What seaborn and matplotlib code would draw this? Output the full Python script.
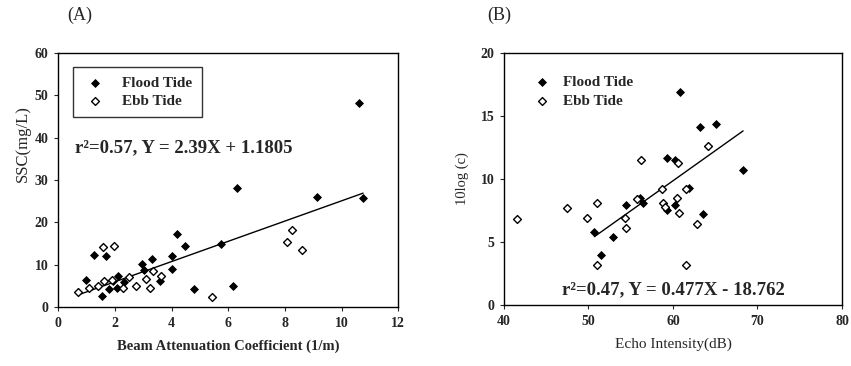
import numpy as np
import pandas as pd
import matplotlib
matplotlib.use("Agg")
import matplotlib.pyplot as plt
import seaborn as sns

# panel A: beam attenuation vs SSC
a_flood_x = [10.62, 10.76, 9.12, 6.32, 5.76, 6.18, 4.79, 4.47, 4.20, 4.02, 4.02, 3.29,
             2.96, 1.27, 1.68, 0.98, 1.55, 1.79, 2.12, 2.06, 2.32, 3.59, 1.94, 3.02]
a_flood_y = [48.1, 25.8, 26.1, 28.0, 14.9, 5.0, 4.3, 14.3, 17.2, 12.0, 8.9, 11.3,
             10.1, 12.2, 12.0, 6.4, 2.7, 4.2, 7.4, 4.6, 5.9, 6.2, 6.2, 8.7]
a_ebb_x = [1.59, 1.98, 8.08, 8.26, 8.59, 5.41, 0.68, 1.08, 1.39, 1.62, 1.88, 2.27,
           2.51, 2.74, 3.09, 3.24, 3.33, 3.61]
a_ebb_y = [14.1, 14.5, 15.4, 18.2, 13.5, 2.3, 3.5, 4.4, 5.0, 6.2, 6.4, 4.6,
           7.0, 5.0, 6.6, 4.6, 8.6, 7.4]
a_slope, a_icpt = 2.39, 1.1805
a_line_x = [0.68, 10.76]

# panel B: echo intensity vs 10log(c)
b_flood_x = [60.8, 63.2, 65.1, 68.3, 59.3, 60.2, 56.1, 56.4, 54.5, 59.3, 60.2, 61.9,
             63.5, 50.7, 52.9, 51.5]
b_flood_y = [16.9, 14.1, 14.4, 10.7, 11.7, 11.5, 8.5, 8.1, 7.9, 7.5, 7.9, 9.3,
             7.2, 5.8, 5.4, 4.0]
b_ebb_x = [41.6, 47.5, 49.8, 51.0, 51.0, 54.3, 54.5, 56.2, 55.8, 58.7, 58.8, 59.0,
           60.6, 60.5, 60.7, 61.5, 61.5, 62.8, 64.1]
b_ebb_y = [6.8, 7.7, 6.9, 8.1, 3.2, 6.9, 6.1, 11.5, 8.4, 9.2, 8.1, 7.8,
           11.3, 8.5, 7.3, 9.2, 3.2, 6.4, 12.6]
b_slope, b_icpt = 0.477, -18.762
b_line_x = [50.7, 68.3]

sns.set_style("ticks")
plt.rcParams['font.family'] = ['Liberation Serif', 'DejaVu Serif']

fig = plt.figure(figsize=(8.51, 3.66), dpi=100)
axA = fig.add_axes([0.0685, 0.1612, 0.3995, 0.694])
axB = fig.add_axes([0.5922, 0.1667, 0.3972, 0.6885])


def draw_panel(ax, fx, fy, ex, ey, slope, icpt, line_x):
    sns.scatterplot(x=fx, y=fy, ax=ax, marker='D', s=16, color='black',
                    edgecolor='black', linewidth=0.6, label='Flood Tide', zorder=3)
    sns.scatterplot(x=ex, y=ey, ax=ax, marker='D', s=16, facecolor='white',
                    edgecolor='black', linewidth=1.0, label='Ebb Tide', zorder=3)
    lx = np.array(line_x)
    sns.lineplot(x=lx, y=slope * lx + icpt, ax=ax, color='black', lw=1.0, zorder=2)
    for s in ax.spines.values():
        s.set_visible(True)
        s.set_linewidth(1.0)
        s.set_color('black')
    ax.tick_params(direction='out', length=3, width=0.8, labelsize=10, pad=4)


# panel A
draw_panel(axA, a_flood_x, a_flood_y, a_ebb_x, a_ebb_y, a_slope, a_icpt, a_line_x)
axA.set_xlim(0, 12)
axA.set_ylim(0, 60)
axA.set_xticks(range(0, 13, 2))
axA.set_yticks(range(0, 61, 10))
for lab in axA.get_xticklabels() + axA.get_yticklabels():
    lab.set_fontweight('bold')
axA.set_xlabel("Beam Attenuation Coefficient (1/m)", fontsize=10.5, fontweight='bold', labelpad=7)
axA.set_ylabel("SSC(mg/L)", fontsize=12)
axA.yaxis.set_label_coords(-0.082, 0.645)
axA.text(0.6, 37.6, "r²=0.57, Y = 2.39X + 1.1805", fontsize=13.5, fontweight='bold', va='center')
legA = axA.legend(loc='upper left', bbox_to_anchor=(0.022, 0.975), frameon=True, fancybox=False,
                  edgecolor='black', fontsize=11, handletextpad=1.0, borderpad=0.6,
                  labelspacing=0.3, handlelength=1.6)
legA.get_frame().set_linewidth(1.0)
for t in legA.get_texts():
    t.set_fontweight('bold')
axA.text(0.026, 1.15, "(A)", transform=axA.transAxes, fontsize=13, ha='left', va='center')

# panel B
draw_panel(axB, b_flood_x, b_flood_y, b_ebb_x, b_ebb_y, b_slope, b_icpt, b_line_x)
axB.set_xlim(40, 80)
axB.set_ylim(0, 20)
axB.set_xticks(range(40, 81, 10))
axB.set_yticks(range(0, 21, 5))
for lab in axB.get_xticklabels() + axB.get_yticklabels():
    lab.set_fontweight('bold')
axB.set_xlabel("Echo Intensity(dB)", fontsize=11, labelpad=7)
axB.set_ylabel("10log (c)", fontsize=10.5, labelpad=8)
axB.text(46.9, 1.2, "r²=0.47, Y = 0.477X - 18.762", fontsize=13.5, fontweight='bold', va='center')
legB = axB.legend(loc='upper left', bbox_to_anchor=(0.035, 0.965), frameon=False,
                  fontsize=11, handletextpad=0.6, labelspacing=0.3, handlelength=1.6)
for t in legB.get_texts():
    t.set_fontweight('bold')
axB.text(-0.05, 1.15, "(B)", transform=axB.transAxes, fontsize=13, ha='left', va='center')

fig.savefig("out.png", dpi=100)
